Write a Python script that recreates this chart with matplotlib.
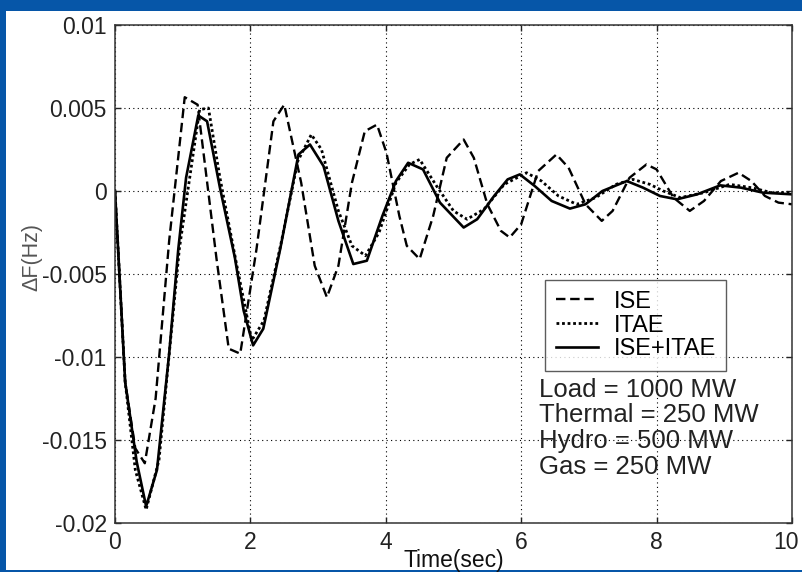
import matplotlib
matplotlib.use("Agg")
import matplotlib.pyplot as plt
import matplotlib.transforms as mtransforms
from matplotlib.patches import Rectangle

# Frequency deviation responses for three controller tuning criteria
t_ise = [0, 0.15, 0.3, 0.44, 0.6, 0.8, 1.03, 1.22, 1.5, 1.68, 1.85, 2.09, 2.34, 2.5,
         2.75, 2.95, 3.13, 3.3, 3.5, 3.69, 3.87, 4.01, 4.2, 4.31, 4.5, 4.7, 4.9, 5.15,
         5.3, 5.5, 5.7, 5.83, 6.0, 6.25, 6.52, 6.7, 6.95, 7.19, 7.35, 7.6, 7.85, 8.0,
         8.25, 8.49, 8.7, 8.95, 9.21, 9.4, 9.6, 9.8, 10.0]
f_ise = [0, -0.0115, -0.0155, -0.0164, -0.0125, -0.0030, 0.00565, 0.0052, -0.0041,
         -0.0095, -0.0098, -0.0035, 0.0042, 0.0052, 0.0005, -0.0045, -0.0064, -0.0045,
         0.0005, 0.0036, 0.0040, 0.0023, -0.0015, -0.0033, -0.0041, -0.0015, 0.0020,
         0.0031, 0.0020, -0.0008, -0.0024, -0.0028, -0.0020, 0.0012, 0.0022, 0.0014,
         -0.0008, -0.0018, -0.0012, 0.0008, 0.0016, 0.0013, -0.0004, -0.0012, -0.0006,
         0.0006, 0.0011, 0.0006, -0.0003, -0.0007, -0.0008]

t_itae = [0, 0.15, 0.3, 0.46, 0.65, 0.95, 1.25, 1.38, 1.55, 1.8, 2.02, 2.2, 2.45, 2.7,
          2.9, 3.05, 3.3, 3.5, 3.7, 3.9, 4.15, 4.35, 4.5, 4.75, 5.0, 5.2, 5.45, 5.75,
          6.08, 6.3, 6.55, 6.82, 7.1, 7.4, 7.65, 7.9, 8.1, 8.35, 8.7, 9.08, 9.4, 9.7, 10.0]
f_itae = [0, -0.0115, -0.0168, -0.0192, -0.0162, -0.0035, 0.0049, 0.0050, 0.0008,
          -0.0045, -0.0090, -0.0078, -0.0032, 0.0018, 0.0034, 0.0025, -0.0012, -0.0033,
          -0.0039, -0.0025, 0.0005, 0.0016, 0.0019, 0.0003, -0.0012, -0.0017, -0.0011,
          0.0004, 0.0011, 0.0006, -0.0003, -0.0008, -0.0004, 0.0004, 0.0007, 0.0004,
          0.0, -0.0004, -0.0001, 0.0004, 0.0002, -0.0001, -0.0001]

t_combo = [0, 0.15, 0.32, 0.46, 0.62, 0.8, 0.935, 1.05, 1.23, 1.36, 1.55, 1.77, 1.9,
           2.04, 2.19, 2.44, 2.71, 2.88, 3.08, 3.3, 3.52, 3.72, 3.95, 4.15, 4.33, 4.55,
           4.8, 5.15, 5.35, 5.6, 5.8, 5.98, 6.2, 6.45, 6.72, 6.95, 7.2, 7.56, 7.8, 8.05,
           8.3, 8.6, 8.94, 9.25, 9.57, 10.0]
f_combo = [0, -0.0115, -0.0163, -0.0190, -0.0168, -0.0098, -0.0035, 0.0008, 0.00455,
           0.0042, 0.0002, -0.0040, -0.0072, -0.0093, -0.0083, -0.0035, 0.0022, 0.0028,
           0.0015, -0.0018, -0.0044, -0.0042, -0.0015, 0.0006, 0.0017, 0.0013, -0.0007,
           -0.0022, -0.0017, -0.0003, 0.0007, 0.0010, 0.0003, -0.0006, -0.00106, -0.0008,
           0.0, 0.0006, 0.0002, -0.0003, -0.0005, -0.0002, 0.00034, 0.0002, -0.0001, -0.0002]

x_ticks = [0, 2, 4, 6, 8, 10]
y_ticks = [-0.02, -0.015, -0.01, -0.005, 0, 0.005, 0.01]
y_tick_labels = ["-0.02", "-0.015", "-0.01", "-0.005", "0", "0.005", "0.01"]
series_labels = ["ISE", "ITAE", "ISE+ITAE"]
info_lines = ["Load = 1000 MW", "Thermal = 250 MW", "Hydro = 500 MW", "Gas = 250 MW"]

plt.rcParams["font.family"] = ["Liberation Sans", "DejaVu Sans"]

W, H = 803, 572
fig = plt.figure(figsize=(W / 100, H / 100), dpi=100, facecolor="#0656a8")

# white panel on the blue slide background
fig.patches.append(Rectangle((6 / W, 2 / H), (W - 6) / W, 559 / H,
                             transform=fig.transFigure, facecolor="white",
                             edgecolor="none", zorder=-10))

ax = fig.add_axes([115 / W, 1 - 523 / H, (792 - 115) / W, (523 - 25) / H])
ax.set_facecolor("white")

ax.plot(t_ise, f_ise, color="black", lw=1.7, linestyle=(0, (4, 2)), label=series_labels[0])
ax.plot(t_itae, f_itae, color="black", lw=2.0, linestyle=(0, (1, 1)), label=series_labels[1])
ax.plot(t_combo, f_combo, color="black", lw=1.9, linestyle="-", label=series_labels[2])

ax.set_xlim(0, 10)
ax.set_ylim(-0.02, 0.01)
ax.set_xticks(x_ticks)
ax.set_xticklabels([str(v) for v in x_ticks])
ax.set_yticks(y_ticks)
ax.set_yticklabels(y_tick_labels)

ax.grid(True, color="black", linestyle=(0, (1, 3)), linewidth=0.8)
ax.tick_params(direction="in", length=4, width=1, top=True, right=True,
               labelsize=16.5, pad=6, colors="#222222")
for s in ax.spines.values():
    s.set_color("#333333")
    s.set_linewidth(1.1)

# nudge the last x tick label so it stays inside the figure
last_lbl = ax.get_xticklabels()[-1]
last_lbl.set_transform(last_lbl.get_transform() +
                       mtransforms.ScaledTranslation(-6 / 100, 0, fig.dpi_scale_trans))

ax.set_xlabel("Time(sec)", fontsize=16.5, labelpad=-4, color="#111111")
fig.text(32 / W, 1 - 257 / H, "\u0394F(Hz)", rotation=90, fontsize=15.5,
         color="#555555", ha="center", va="center")

leg = ax.legend(loc="upper left", bbox_to_anchor=(545 / W, 1 - 280 / H),
                bbox_transform=fig.transFigure, fontsize=17, frameon=True,
                fancybox=False, handlelength=1.8, handletextpad=0.65,
                labelspacing=0.08, borderpad=0.45, borderaxespad=0)
leg.get_frame().set_edgecolor("#333333")
leg.get_frame().set_linewidth(1.0)

for i, line in enumerate(info_lines):
    fig.text(539 / W, 1 - (390 + 25.5 * i) / H, line, fontsize=18.5,
             color="#222222", ha="left", va="center")

fig.savefig("out.png", dpi=100, facecolor=fig.get_facecolor())
